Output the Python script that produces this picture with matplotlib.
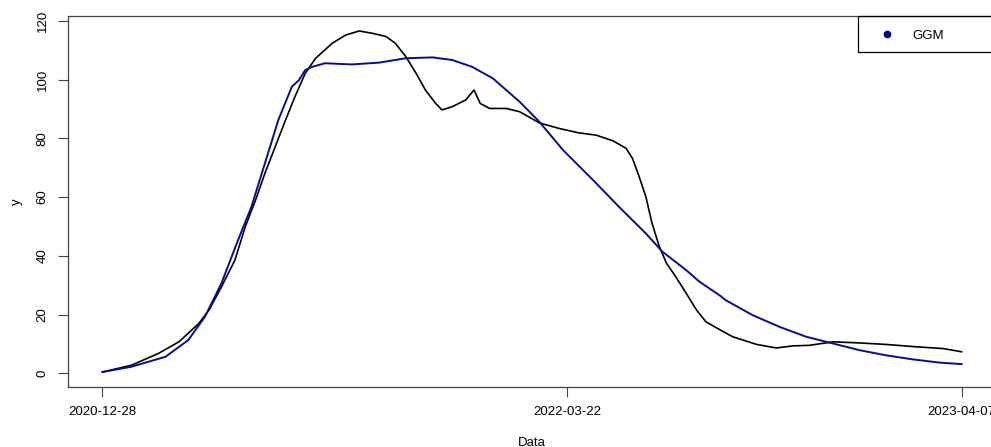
import numpy as np
import pandas as pd
import matplotlib
matplotlib.use("Agg")
import matplotlib.pyplot as plt
from matplotlib.lines import Line2D
from matplotlib.patches import Rectangle

plt.rcParams['font.family'] = ['Liberation Sans', 'DejaVu Sans']

# Dados (dias desde 2020-12-28)
inicio = pd.Timestamp('2020-12-28')

dias_obs = [0, 28, 54, 74, 93, 103, 115, 128, 138, 148, 157, 167, 177, 186,
            196, 206, 222, 235, 248, 261, 274, 283, 293, 303, 312, 322, 328,
            338, 351, 359, 365, 374, 390, 403, 422, 441, 460, 477, 493, 506,
            512, 518, 525, 531, 538, 545, 554, 564, 574, 583, 597, 609, 632,
            651, 667, 683, 706, 732, 757, 786, 812, 830]
y_obs = [0.4, 2.7, 6.7, 10.7, 16.9, 21.5, 29.4, 38.5, 49.9, 59.0, 68.1, 77.2,
         86.3, 94.2, 102.2, 107.3, 112.4, 115.2, 116.6, 115.8, 114.7, 112.4,
         107.9, 102.2, 96.5, 91.9, 89.7, 90.8, 93.1, 96.5, 91.9, 90.2, 90.2,
         89.1, 85.3, 83.4, 81.9, 81.1, 79.2, 76.6, 73.2, 67.5, 60.1, 51.0,
         43.1, 37.4, 32.8, 27.2, 21.5, 17.5, 14.7, 12.4, 9.8, 8.6, 9.3, 9.5,
         10.7, 10.3, 9.8, 9.0, 8.4, 7.3]

dias_ggm = [0, 28, 61, 83, 99, 115, 131, 144, 157, 170, 183, 190, 196, 203,
            215, 241, 267, 293, 319, 338, 357, 377, 390, 403, 422, 445, 474,
            499, 525, 541, 564, 577, 596, 602, 628, 654, 680, 706, 732, 757,
            783, 809, 830]
y_ggm = [0.4, 2.2, 5.6, 11.3, 19.2, 30.6, 45.3, 56.7, 71.5, 86.3, 97.6, 99.9,
         103.3, 104.4, 105.6, 105.2, 105.8, 107.3, 107.6, 106.7, 104.4, 100.5,
         96.5, 92.5, 85.7, 76.0, 65.8, 56.7, 47.6, 41.4, 35.1, 31.1, 26.6,
         24.9, 19.8, 15.8, 12.4, 10.1, 7.8, 6.1, 4.7, 3.6, 3.1]

datas_ticks = ['2020-12-28', '2022-03-22', '2023-04-07']

datas_obs = inicio + pd.to_timedelta(dias_obs, unit='D')
datas_ggm = inicio + pd.to_timedelta(dias_ggm, unit='D')

fig = plt.figure(figsize=(9.91, 4.47), dpi=100)
ax = fig.add_axes([68 / 991, 60 / 447, 928 / 991, 371 / 447])

ax.plot(datas_obs, y_obs, color='black', lw=1.2)
ax.plot(datas_ggm, y_ggm, color='#0a0a9a', lw=1.4)

# Limites no estilo do R (4% de folga)
span = dias_obs[-1] - dias_obs[0]
ax.set_xlim(inicio - pd.Timedelta(days=span * 0.04),
            inicio + pd.Timedelta(days=dias_obs[-1] + span * 0.04))
ax.set_ylim(-4.7, 121.7)

ticks = pd.to_datetime(datas_ticks)
ax.set_xticks(ticks)
ax.set_xticklabels(datas_ticks)
ax.set_yticks([0, 20, 40, 60, 80, 100, 120])
ax.tick_params(axis='both', direction='out', length=7, width=0.8,
               color='#444444', labelsize=9.5, pad=7)
plt.setp(ax.get_yticklabels(), rotation=90, va='center')

for s in ax.spines.values():
    s.set_color('#444444')
    s.set_linewidth(0.9)

ax.set_xlabel('Data', fontsize=9.5, labelpad=13)
ax.set_ylabel('y', fontsize=9.5, labelpad=10)

# Legenda
fig.patches.append(Rectangle((858 / 991, 1 - 52 / 447), 0.2, 36 / 447,
                             transform=fig.transFigure, fill=False,
                             edgecolor='black', linewidth=0.9))
handle = Line2D([], [], ls='none', marker='o', markersize=4.5, color='#00008B')
fig.legend([handle], ['GGM'], loc='center left', frameon=False,
           bbox_to_anchor=(880 / 991, 1 - 36 / 447), borderpad=0,
           borderaxespad=0, handlelength=1.0, handletextpad=1.45,
           fontsize=9.5)

fig.savefig('out.png', dpi=100)
